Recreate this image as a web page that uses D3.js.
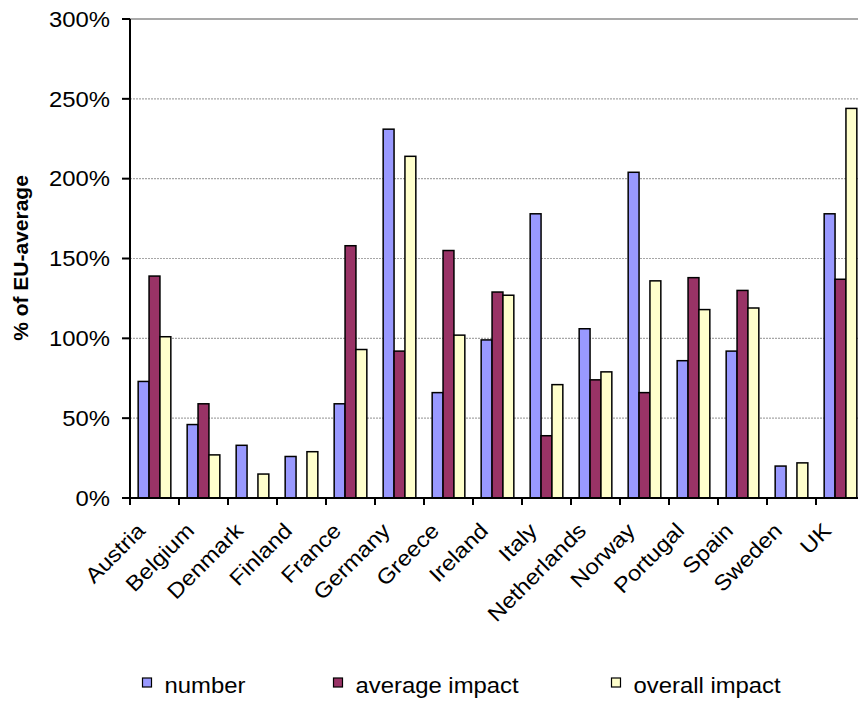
<!DOCTYPE html>
<html>
<head>
<meta charset="utf-8">
<script src="https://cdn.jsdelivr.net/npm/d3@7"></script>
<style>
  html, body { margin: 0; padding: 0; background: #fff; }
  svg { display: block; }
  text { font-family: Arial, "Liberation Sans", sans-serif; fill: #000; }
</style>
</head>
<body>
<svg id="chart" width="858" height="702"></svg>
<script>
// Countries along the x axis
const countries = ["Austria", "Belgium", "Denmark", "Finland", "France", "Germany", "Greece",
  "Ireland", "Italy", "Netherlands", "Norway", "Portugal", "Spain", "Sweden", "UK"];

// Series values, % of EU-average
const numberVals  = [73, 46, 33, 26, 59, 231, 66, 99, 178, 106, 204, 86, 92, 20, 178];
const avgImpact   = [139, 59, 0, 0, 158, 92, 155, 129, 39, 74, 66, 138, 130, 0, 137];
const overallImp  = [101, 27, 15, 29, 93, 214, 102, 127, 71, 79, 136, 118, 119, 22, 244];

const seriesNames  = ["number", "average impact", "overall impact"];
const seriesColors = ["#9999FF", "#993366", "#FFFFCC"];
const yTicks = [0, 50, 100, 150, 200, 250, 300];

const series = [numberVals, avgImpact, overallImp];

const svg = d3.select("#chart");
const SX = 1.11;           // horizontal stretch of the text glyphs
const FS = 21.5;           // base font size
const plotL = 130, plotR = 865, plotT = 19, plotB = 498;

const x = d3.scaleBand().domain(countries).range([plotL, plotR])
  .paddingInner(1 / 3).paddingOuter(1 / 6);
const xs = d3.scaleBand().domain(d3.range(series.length)).range([0, x.bandwidth()]);
const y = d3.scaleLinear().domain([0, 300]).range([plotB, plotT]);

function place(sel, px, py, rot) {
  const r = rot ? ` rotate(${rot})` : "";
  sel.attr("transform", `translate(${px},${py})${r} scale(${SX},1)`);
}

// gridlines
svg.append("g").selectAll("line").data(yTicks.filter(d => d > 0)).join("line")
  .attr("x1", plotL).attr("x2", 858)
  .attr("y1", d => y(d)).attr("y2", d => y(d))
  .attr("stroke", d => d === 300 ? "#8c8c8c" : "#a6a6a6")
  .attr("stroke-width", d => d === 300 ? 1.6 : 1.2)
  .attr("stroke-dasharray", d => d === 300 ? null : "2,1");

// bars
const groups = svg.append("g").selectAll("g").data(countries).join("g")
  .attr("transform", d => `translate(${x(d)},0)`);
groups.selectAll("rect")
  .data((c, i) => series.map((s, k) => ({ k, v: s[i] })).filter(d => d.v > 0))
  .join("rect")
  .attr("x", d => xs(d.k))
  .attr("width", xs.bandwidth())
  .attr("y", d => y(d.v))
  .attr("height", d => y(0) - y(d.v))
  .attr("fill", d => seriesColors[d.k])
  .attr("stroke", "#000")
  .attr("stroke-width", 1.5);

// y axis
const yAxis = svg.append("g");
yAxis.append("line").attr("x1", plotL).attr("x2", plotL).attr("y1", plotT).attr("y2", plotB)
  .attr("stroke", "#000").attr("stroke-width", 2);
yAxis.selectAll("line.tick").data(yTicks).join("line").attr("class", "tick")
  .attr("x1", plotL - 8).attr("x2", plotL).attr("y1", d => y(d)).attr("y2", d => y(d))
  .attr("stroke", "#000").attr("stroke-width", 2);
yAxis.selectAll("text").data(yTicks).join("text")
  .attr("text-anchor", "end").attr("font-size", FS).attr("dy", "0.36em")
  .text(d => d + "%")
  .each(function (d) { place(d3.select(this), 110, y(d)); });

// x axis
const xAxis = svg.append("g");
xAxis.append("line").attr("x1", plotL).attr("x2", 858).attr("y1", plotB).attr("y2", plotB)
  .attr("stroke", "#000").attr("stroke-width", 2);
xAxis.selectAll("line.tick").data(d3.range(countries.length + 1)).join("line").attr("class", "tick")
  .attr("x1", i => plotL + i * x.step()).attr("x2", i => plotL + i * x.step())
  .attr("y1", plotB).attr("y2", plotB + 7)
  .attr("stroke", "#000").attr("stroke-width", 2);
xAxis.selectAll("text").data(countries).join("text")
  .attr("text-anchor", "end").attr("font-size", 21.5)
  .text(d => d)
  .each(function (d) {
    const cx = x(d) + x.bandwidth() / 2;
    place(d3.select(this), cx - 8, plotB + 34, -45);
  });

// y axis title
const title = svg.append("text")
  .attr("text-anchor", "middle").attr("font-size", 21).attr("font-weight", "bold")
  .attr("transform", "translate(28,258) rotate(-90)")
  .text("% of EU-average");

// legend
const legendX = [142.5, 333.5, 611.5];
const legend = svg.append("g").selectAll("g").data(seriesNames).join("g")
  .attr("transform", (d, i) => `translate(${legendX[i]},678)`);
legend.append("rect").attr("width", 9).attr("height", 9)
  .attr("fill", (d, i) => seriesColors[i]).attr("stroke", "#000").attr("stroke-width", 1.2);
legend.append("text").attr("font-size", FS)
  .text(d => d)
  .each(function () { place(d3.select(this), 22, 15); });
</script>
</body>
</html>
